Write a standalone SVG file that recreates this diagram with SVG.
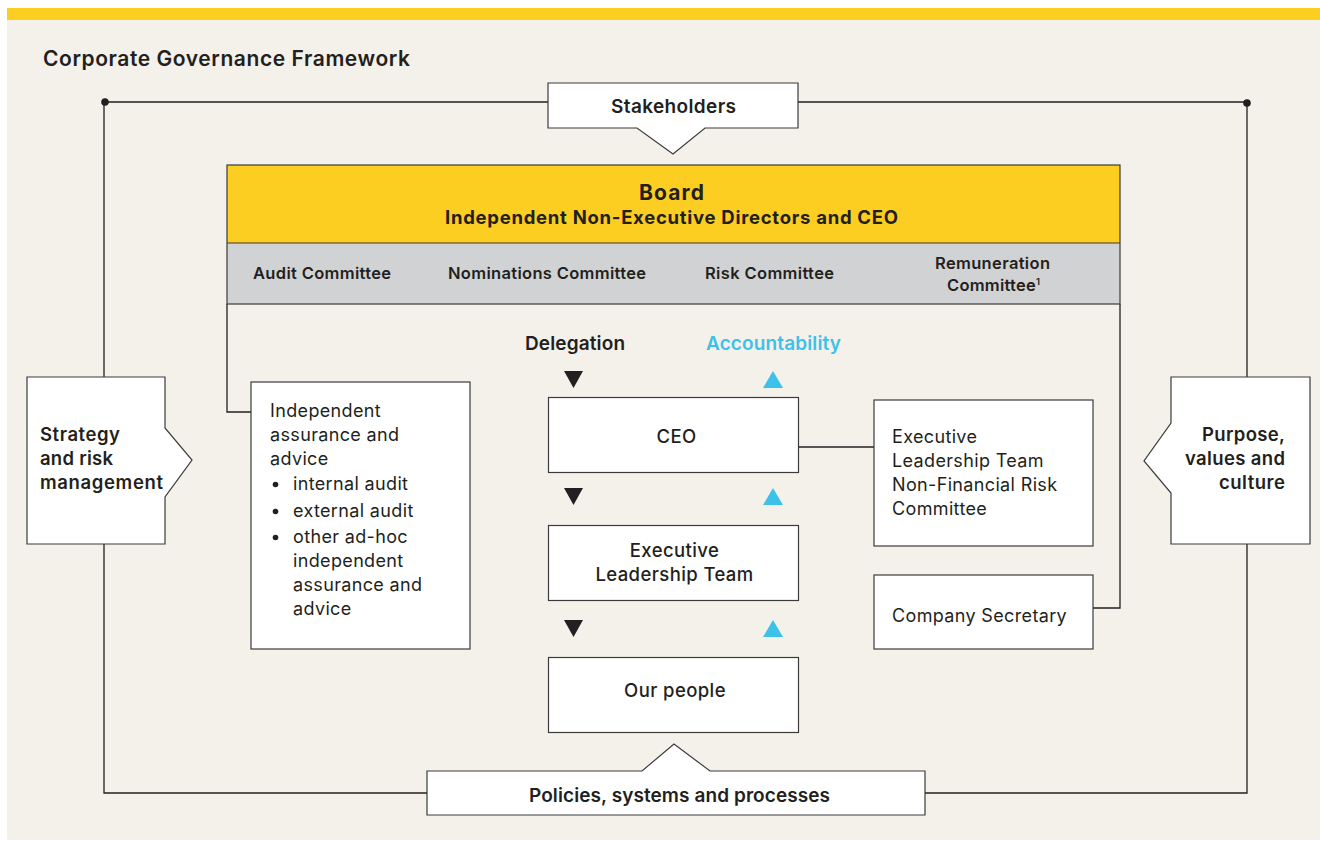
<svg xmlns="http://www.w3.org/2000/svg" width="1320" height="841" viewBox="0 0 1320 841">
<style>
text{font-family:Inter,"Liberation Sans",Arial,sans-serif;fill:#231f20}
.b{font-weight:700}
.sb{font-weight:600}
.r{font-weight:400;font-size:18px;letter-spacing:0.35px}
.m{font-weight:500;font-size:18.5px;letter-spacing:0.4px}
.box{fill:#fff;stroke:#3c3a3a;stroke-width:1.2}
.ln{fill:none;stroke:#231f20;stroke-width:1.3}
.tri{fill:#231f20}
.ctri{fill:#3ec1e9}
</style>
<rect x="0" y="0" width="1320" height="841" fill="#fff"/>
<rect x="7" y="8" width="1313" height="832" fill="#f4f1ea"/>
<rect x="7" y="8" width="1313" height="12" fill="#fdce22"/>
<text x="43" y="66" class="sb" font-size="21" textLength="367" lengthAdjust="spacing">Corporate Governance Framework</text>

<g id="connectors">
<path class="ln" d="M104,102 H1247 V793 H104 Z"/>
<circle cx="105" cy="102" r="3.8" fill="#231f20"/>
<circle cx="1247" cy="103" r="3.8" fill="#231f20"/>
<path class="ln" d="M227,304 V412 H251"/>
<path class="ln" d="M1120,304 V608 H1093"/>
<path class="ln" d="M798,447 H874"/>
</g>

<g id="stakeholders">
<path class="box" d="M548,83 H798 V128 H705 L673,154 L637,128 H548 Z"/>
<text x="673.5" y="113" text-anchor="middle" class="sb" font-size="19" textLength="125" lengthAdjust="spacing">Stakeholders</text>
</g>

<g id="board">
<rect x="227" y="165" width="893" height="78" fill="#fdce22"/>
<rect x="227" y="243" width="893" height="61" fill="#d1d2d4"/>
<rect x="227" y="165" width="893" height="139" fill="none" stroke="#3c3a3a" stroke-width="1.2"/>
<line x1="227" y1="243" x2="1120" y2="243" stroke="#3c3a3a" stroke-width="1.2"/>
<text x="671.5" y="200" text-anchor="middle" class="b" font-size="21" textLength="65" lengthAdjust="spacing">Board</text>
<text x="671.5" y="224" text-anchor="middle" class="b" font-size="18.5" textLength="453" lengthAdjust="spacing">Independent Non-Executive Directors and CEO</text>
<text x="322" y="279" text-anchor="middle" class="sb" font-size="16.5" textLength="138" lengthAdjust="spacing">Audit Committee</text>
<text x="547" y="279" text-anchor="middle" class="sb" font-size="16.5" textLength="198" lengthAdjust="spacing">Nominations Committee</text>
<text x="769.5" y="279" text-anchor="middle" class="sb" font-size="16.5" textLength="129" lengthAdjust="spacing">Risk Committee</text>
<text x="992.5" y="269" text-anchor="middle" class="sb" font-size="16.5" textLength="115" lengthAdjust="spacing">Remuneration</text>
<text x="947" y="291" class="sb" font-size="16.5" textLength="93" lengthAdjust="spacing">Committee<tspan font-size="9.5" dy="-6">1</tspan></text>
</g>

<g id="strategy">
<path class="box" d="M27,377 H165 V428 L192,460 L165,497 V544 H27 Z"/>
<text x="40" y="441" class="sb" font-size="18.5" textLength="80" lengthAdjust="spacing">Strategy</text>
<text x="40" y="465" class="sb" font-size="18.5" textLength="73" lengthAdjust="spacing">and risk</text>
<text x="40" y="489" class="sb" font-size="18.5" textLength="123" lengthAdjust="spacing">management</text>
</g>

<g id="purpose">
<path class="box" d="M1171,377 H1310 V544 H1171 V493 L1144,461 L1171,423 Z"/>
<text x="1285" y="441" text-anchor="end" class="sb" font-size="18.5" textLength="83" lengthAdjust="spacing">Purpose,</text>
<text x="1285" y="465" text-anchor="end" class="sb" font-size="18.5" textLength="100" lengthAdjust="spacing">values and</text>
<text x="1285" y="489" text-anchor="end" class="sb" font-size="18.5" textLength="66" lengthAdjust="spacing">culture</text>
</g>

<g id="independent-assurance">
<rect class="box" x="251" y="382" width="219" height="267"/>
<text x="270" y="417" class="r">Independent</text>
<text x="270" y="441" class="r">assurance and</text>
<text x="270" y="465" class="r">advice</text>
<circle cx="275.5" cy="484.5" r="2.8" fill="#231f20"/>
<text x="293" y="490" class="r">internal audit</text>
<circle cx="275.5" cy="511.5" r="2.8" fill="#231f20"/>
<text x="293" y="517" class="r">external audit</text>
<circle cx="275.5" cy="537.5" r="2.8" fill="#231f20"/>
<text x="293" y="543" class="r">other ad-hoc</text>
<text x="293" y="567" class="r">independent</text>
<text x="293" y="591" class="r">assurance and</text>
<text x="293" y="615" class="r">advice</text>
</g>

<g id="flow-labels">
<text x="575" y="350" text-anchor="middle" class="sb" font-size="19" textLength="100" lengthAdjust="spacing">Delegation</text>
<text x="773.5" y="350" text-anchor="middle" class="sb" font-size="19" textLength="135" lengthAdjust="spacing" style="fill:#3ec1e9">Accountability</text>
<path class="tri" d="M564,371 H583 L573.5,388 Z"/>
<path class="ctri" d="M763,388 H783 L773,371 Z"/>
<path class="tri" d="M564,488 H583 L573.5,505 Z"/>
<path class="ctri" d="M763,505 H783 L773,488 Z"/>
<path class="tri" d="M564,620 H583 L573.5,637 Z"/>
<path class="ctri" d="M763,637 H783 L773,620 Z"/>
</g>

<g id="ceo">
<rect class="box" x="548.5" y="397.5" width="250" height="75"/>
<text x="676.5" y="443" text-anchor="middle" class="m">CEO</text>
</g>

<g id="elt">
<rect class="box" x="548.5" y="525.5" width="250" height="75"/>
<text x="674.5" y="557" text-anchor="middle" class="m">Executive</text>
<text x="674.5" y="581" text-anchor="middle" class="m">Leadership Team</text>
</g>

<g id="our-people">
<rect class="box" x="548.5" y="657.5" width="250" height="75"/>
<text x="675" y="697" text-anchor="middle" class="m">Our people</text>
</g>

<g id="elt-nfrc">
<rect class="box" x="874" y="400" width="219" height="146"/>
<text x="892" y="443" class="r">Executive</text>
<text x="892" y="467" class="r">Leadership Team</text>
<text x="892" y="491" class="r">Non-Financial Risk</text>
<text x="892" y="515" class="r">Committee</text>
</g>

<g id="company-secretary">
<rect class="box" x="874" y="575" width="219" height="74"/>
<text x="892" y="622" class="r">Company Secretary</text>
</g>

<g id="policies">
<path class="box" d="M427,771 H642 L674,744 L710,771 H925 V815 H427 Z"/>
<text x="679.5" y="802" text-anchor="middle" class="sb" font-size="19" textLength="301" lengthAdjust="spacing">Policies, systems and processes</text>
</g>
</svg>
